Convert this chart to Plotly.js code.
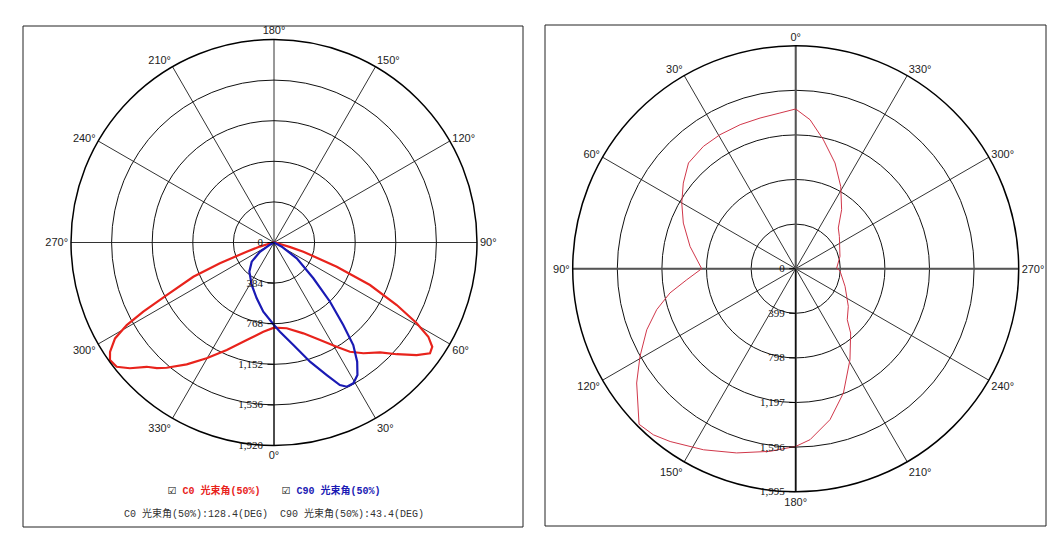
<!DOCTYPE html>
<html>
<head>
<meta charset="utf-8">
<script src="https://cdn.plot.ly/plotly-3.0.1.min.js"></script>
<style>html,body{margin:0;padding:0;background:#fff;}#chart{width:1060px;height:538px;}</style>
</head>
<body>
<div id="chart"></div>
<script>
// ---------- Left chart: C0 / C90 planes ----------
const c0Theta = [-90, -82, -77, -74, -71.4, -69, -67, -63.9, -62.1, -60.7, -58.9, -56.3, -54.4, -51.7, -48.9, -45.7, -43, -40.6, -35.6, -30.2, -23.7, -15.6, -6.8, 0, 8.4, 17.9, 25.3, 31, 34.8, 38.9, 44, 47.7, 51.7, 54.6, 56.6, 58.6, 60.5, 63, 66.1, 68.9, 72.6, 74, 77, 82, 90];
const c0R     = [0, 10, 40, 140, 273, 548, 829, 1130, 1399, 1597, 1756, 1864, 1908, 1896, 1809, 1683, 1625, 1560, 1418, 1267, 1111, 958, 850, 806, 820, 903, 1020, 1150, 1258, 1346, 1444, 1570, 1719, 1810, 1793, 1710, 1551, 1303, 993, 636, 291, 160, 50, 10, 0];

const c90Theta = [-70, -61, -56.7, -49.3, -40.2, -27.7, -17.2, -8.8, 0, 3.8, 10.7, 16.8, 21.7, 24.8, 26.8, 29.4, 32.2, 34.9, 37.7, 40, 43.4, 47.7, 55.2, 62, 70];
const c90R     = [0, 43, 159, 278, 361, 454, 553, 662, 780, 846, 987, 1178, 1349, 1485, 1528, 1529, 1481, 1375, 1226, 1019, 771, 503, 262, 80, 0];

const leftTicks = [0, 384, 768, 1152, 1536, 1920];

// ---------- Right chart ----------
const rightTheta = [0, 5.8, 13.3, 21.1, 29.5, 37, 45.4, 52.7, 60, 67.9, 78.1, 90, 95.8, 100.9, 106.4, 112.3, 119.4, 125.7, 134.8, 139.4, 144, 153, 162.2, 172, 180, 184.8, 192.8, 201, 210.8, 220.5, 225.3, 234.4, 250.3, 267, 271, 285.5, 306.5, 313.7, 322.1, 331.3, 339.6, 347.9, 354.5, 360];
const rightR     = [1429, 1400, 1385, 1381, 1377, 1371, 1347, 1264, 1177, 1085, 966, 841, 980, 1145, 1296, 1440, 1599, 1752, 1975, 1957, 1911, 1818, 1731, 1650, 1590, 1535, 1385, 1191, 948, 757, 649, 579, 469, 397, 367, 411, 486, 527, 669, 839, 1009, 1180, 1339, 1429];

const rightTicks = [0, 399, 798, 1197, 1596, 1995];

// Legend / info texts
const legendC0  = 'C0 光束角(50%)';
const legendC90 = 'C90 光束角(50%)';
const infoText  = 'C0 光束角(50%):128.4(DEG)  C90 光束角(50%):43.4(DEG)';

const W = 1060, H = 538;
const px = v => v / W;
const py = v => 1 - v / H;

const rightMax = rightTicks[rightTicks.length - 1];

const traces = [
  {type: 'scatterpolar', subplot: 'polar', theta: c0Theta, r: c0R, mode: 'lines',
   line: {color: '#e8231c', width: 2.2}, name: 'C0', hoverinfo: 'skip'},
  {type: 'scatterpolar', subplot: 'polar', theta: c90Theta, r: c90R, mode: 'lines',
   line: {color: '#1a1ab4', width: 2.2}, name: 'C90', hoverinfo: 'skip'},
  // main cross lines of right chart (grid emphasis)
  {type: 'scatterpolar', subplot: 'polar2', theta: [0, 0, 180], r: [rightMax, 0, rightMax], mode: 'lines',
   line: {color: '#555', width: 2}, hoverinfo: 'skip', showlegend: false},
  {type: 'scatterpolar', subplot: 'polar2', theta: [90, 0, 270], r: [rightMax, 0, rightMax], mode: 'lines',
   line: {color: '#555', width: 2}, hoverinfo: 'skip', showlegend: false},
  {type: 'scatterpolar', subplot: 'polar2', theta: rightTheta, r: rightR, mode: 'lines',
   line: {color: '#d0374a', width: 1}, name: 'C', hoverinfo: 'skip'}
];

const angFont = {family: 'Liberation Sans, Arial, sans-serif', size: 11, color: '#222'};
const radFont = {family: 'Liberation Serif, Times New Roman, serif', size: 11, color: '#111'};

function polarCfg(domX, domY, rotation, ticks) {
  return {
    domain: {x: domX, y: domY},
    bgcolor: '#fff',
    angularaxis: {
      rotation: rotation, direction: 'counterclockwise',
      tickmode: 'linear', tick0: 0, dtick: 30, ticksuffix: '°',
      showline: true, linecolor: '#000', linewidth: 1.5,
      gridcolor: '#333', gridwidth: 1, ticks: '', tickfont: angFont, color: '#222'
    },
    radialaxis: {
      range: [0, ticks[ticks.length - 1]], tickmode: 'array', tickvals: ticks,
      tickformat: ',d', angle: 270, side: 'clockwise', tickangle: -90,
      showline: true, linecolor: '#000', linewidth: 1,
      ticks: 'outside', ticklen: 6, tickcolor: '#000',
      gridcolor: '#111', gridwidth: 1, tickfont: radFont, color: '#111'
    }
  };
}

const layout = {
  width: W, height: H,
  margin: {l: 0, r: 0, t: 0, b: 0},
  paper_bgcolor: '#fff',
  font: {color: '#222'},
  showlegend: false,
  polar: polarCfg([px(71), px(477)], [py(445.5), py(39.5)], 270, leftTicks),
  polar2: polarCfg([px(572.7), px(1018.7)], [py(491.7), py(45.7)], 90, rightTicks),
  shapes: [
    {type: 'rect', xref: 'paper', yref: 'paper', x0: px(23), x1: px(523), y0: py(527), y1: py(26),
     line: {color: '#222', width: 1}},
    {type: 'rect', xref: 'paper', yref: 'paper', x0: px(545), x1: px(1046), y0: py(526), y1: py(25),
     line: {color: '#222', width: 1}}
  ],
  annotations: [
    {xref: 'paper', yref: 'paper', x: px(166), y: py(490), xanchor: 'left', yanchor: 'middle', showarrow: false,
     text: '<span style="color:#000;font-size:14px">☑</span> <b>' + legendC0 + '</b>',
     font: {family: 'Liberation Mono, Noto Sans CJK SC, monospace', size: 10, color: '#e8231c'}},
    {xref: 'paper', yref: 'paper', x: px(280), y: py(490), xanchor: 'left', yanchor: 'middle', showarrow: false,
     text: '<span style="color:#000;font-size:14px">☑</span> <b>' + legendC90 + '</b>',
     font: {family: 'Liberation Mono, Noto Sans CJK SC, monospace', size: 10, color: '#1a1ab4'}},
    {xref: 'paper', yref: 'paper', x: px(274), y: py(513), xanchor: 'center', yanchor: 'middle', showarrow: false,
     text: infoText,
     font: {family: 'Liberation Mono, Noto Sans CJK SC, monospace', size: 10, color: '#333'}}
  ]
};

Plotly.newPlot('chart', traces, layout, {displayModeBar: false, staticPlot: true});
</script>
</body>
</html>
